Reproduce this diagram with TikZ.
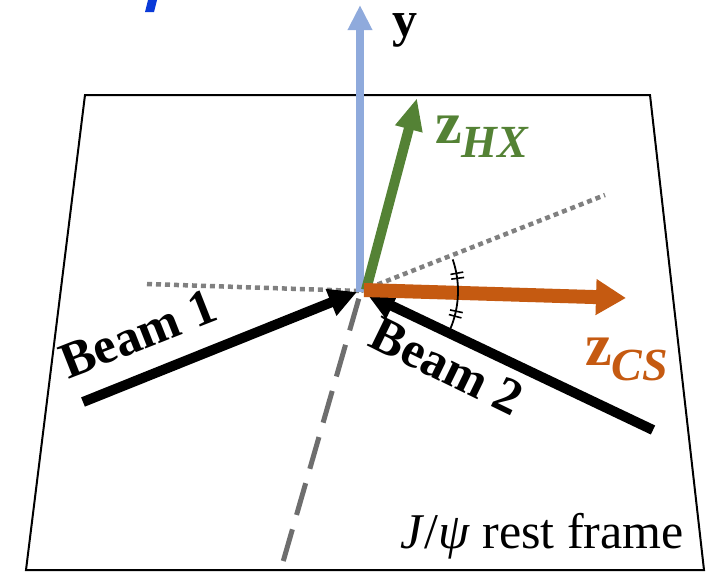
\documentclass[tikz,border=0pt]{standalone}
\usepackage{fontspec}
\setmainfont{Liberation Serif}
\usetikzlibrary{arrows.meta}
\definecolor{yaxis}{HTML}{8FAADC}
\definecolor{hxgreen}{HTML}{548235}
\definecolor{csorange}{HTML}{C55A11}
\definecolor{dotgray}{HTML}{808080}
\definecolor{dashgray}{HTML}{6E6E6E}
\definecolor{markblue}{HTML}{0A3AD8}
\tikzset{
  frameline/.style={line width=2pt, black, line join=miter},
  dotline/.style={line width=4.5pt, dotgray, dash pattern=on 5pt off 4pt},
  dashline/.style={line width=5pt, dashgray, dash pattern=on 33pt off 15pt, dash phase=-8pt},
  beam/.style={line width=10pt, black, -{Triangle[length=28pt,width=27pt]}},
  yarrow/.style={line width=8pt, yaxis, -{Triangle[length=25pt,width=23pt]}},
  hxarrow/.style={line width=10pt, hxgreen, -{Triangle[length=32pt,width=26pt]}},
  csarrow/.style={line width=14pt, csorange, -{Triangle[length=30pt,width=34pt]}},
  beamlabel/.style={font=\fontsize{51}{51}\selectfont\bfseries, inner sep=0pt},
  anglemark/.style={line width=1.8pt, black},
}
\begin{document}
\begin{tikzpicture}[x=1pt,y=-1pt]
\useasboundingbox (0,0) rectangle (715,573);
% blue fragment
\fill[markblue] (148,0) -- (157,0) -- (154,12) -- (145,12) -- cycle;
% frame
\draw[frameline] (85,95) -- (650,95) -- (704,570) -- (26,570) -- cycle;
% coordinates
\coordinate (O) at (361,291);
\coordinate (dl) at (147,284);
\coordinate (dr) at (605,195);
\coordinate (db) at (283,562);
\coordinate (b1s) at (83,402);
\coordinate (b1e) at (357,292);
\coordinate (b2s) at (653,430);
\coordinate (b2e) at (367,294);
\coordinate (ys) at (360,292);
\coordinate (ye) at (360,5);
\coordinate (hxs) at (366,290);
\coordinate (hxe) at (417,98);
\coordinate (css) at (364,290);
\coordinate (cse) at (626,298);
% reference lines
\draw[dotline] (dl) -- (O);
\draw[dotline] (O) -- (dr);
\draw[dashline] (O) -- (db);
% beams
\draw[beam] (b1s) -- (b1e);
\draw[beam] (b2s) -- (b2e);
% axes
\draw[yarrow] (ys) -- (ye);
\draw[hxarrow] (hxs) -- (hxe);
\draw[csarrow] (css) -- (cse);
% angle arc
\draw[anglemark] (O) ++(-19:97) arc[start angle=-19, end angle=23, radius=97];
\foreach \a in {-10.5,-7.5,12,15}{
  \draw[line width=1.6pt] (O) ++(\a:91) -- ++(\a:13);
}
% labels
\node[anchor=base west, inner sep=0pt, font=\fontsize{50}{50}\selectfont\bfseries] (ylab) at (392,36) {y};
\node[anchor=base west, inner sep=0pt, text=hxgreen] (hxlab) at (435,143)
  {{\fontsize{60}{60}\selectfont\bfseries z}\raisebox{-14pt}{\fontsize{46}{46}\selectfont\bfseries\itshape HX}};
\node[anchor=base west, inner sep=0pt, text=csorange] (cslab) at (585,365)
  {{\fontsize{60}{60}\selectfont\bfseries z}\raisebox{-15pt}{\fontsize{46}{46}\selectfont\bfseries\itshape CS}};
\node[beamlabel, rotate=21.5] (beam1) at (138,334) {Beam 1};
\node[beamlabel, rotate=-26] (beam2) at (447,366) {Beam 2};
\node[anchor=base west, inner sep=0pt, font=\fontsize{50}{50}\selectfont] (rf) at (400,548) {\textit{J}/\textit{ψ} rest frame};
\end{tikzpicture}
\end{document}
